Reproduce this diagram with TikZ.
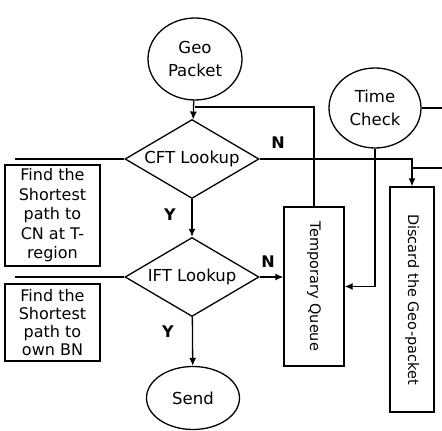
\documentclass[tikz,border=0pt]{standalone}
\usepackage{fontspec}
\setmainfont{DejaVu Sans}
\usetikzlibrary{arrows.meta,positioning,shapes.geometric}

\begin{document}
\begin{tikzpicture}[
  x=1pt, y=1pt,
  line width=1.3pt,
  every node/.style={font=\fontsize{16.5}{23}\selectfont},
  term/.style={draw, ellipse, inner sep=0pt, minimum width=94pt,
    minimum height=82pt, align=center},
  decide/.style={draw, diamond, inner sep=0pt, aspect=1.66,
    minimum width=134pt, minimum height=79pt},
  box/.style={draw, inner sep=0pt, align=center,
    font=\fontsize{16}{19.5}\selectfont},
  vbox/.style={box, font=\fontsize{14.5}{17}\selectfont},
  arr/.style={-{Latex[length=8pt,width=7pt]}},
  lbl/.style={font=\fontsize{16}{18}\selectfont\bfseries}
]
  \useasboundingbox (0,0) rectangle (442,431);

  \node[term] (geo) at (195,372) {Geo\\Packet};
  \node[decide] (cft) at (192,272) {CFT Lookup};
  \node[decide] (ift) at (192,154) {IFT Lookup};
  \node[term, minimum width=93pt, minimum height=63pt] (send) at (193,33) {Send};
  \node[term, minimum width=92pt, minimum height=80pt] (time) at (375,323) {Time\\Check};
  \node[vbox, minimum width=60pt, minimum height=159pt] (queue) at (314,144.5)
    {\rotatebox{-90}{Temporary Queue}};
  \node[vbox, minimum width=44pt, minimum height=225pt] (discard) at (412,131.5)
    {\rotatebox{-90}{Discard the Geo-packet}};
  \node[box, minimum width=95pt, minimum height=101pt] (findcn) at (52.5,215.5)
    {Find the\\Shortest\\path to\\CN at T-\\region};
  \node[box, minimum width=95pt, minimum height=77pt,
    font=\fontsize{16}{18}\selectfont] (findbn) at (52.5,108.5)
    {Find the\\Shortest\\path to\\own BN};

  \node[lbl] (ncft) at (278,288) {N};
  \node[lbl] (nift) at (268,169) {N};
  \node[lbl] (ycft) at (170,216) {Y};
  \node[lbl] (yift) at (168,99) {Y};

  \coordinate (jq) at (195,324);
  \coordinate (jd) at (412,263);
  \coordinate (rin) at (442,263);
  \coordinate (tout) at (442,323);
  \coordinate (cftout) at (15,272);
  \coordinate (iftout) at (15,154);

  \draw[arr] (geo) -- (cft);
  \draw (queue.north) |- (jq);
  \draw[arr] (cft.east) -| (discard.north);
  \draw (rin) -- (jd);
  \draw (time.east) -- (tout);
  \draw[arr] (time.south) |- (queue.east);
  \draw[arr] (cft) -- (ift);
  \draw (cft.west) -- (cftout);
  \draw (ift.west) -- (iftout);
  \draw[arr] (ift.east) -- (ift.east -| queue.west);
  \draw[arr] (ift) -- (send);
\end{tikzpicture}
\end{document}
